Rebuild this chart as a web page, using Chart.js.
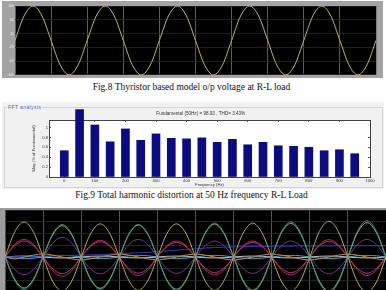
<!DOCTYPE html>
<html>
<head>
<meta charset="utf-8">
<script src="https://cdn.jsdelivr.net/npm/chart.js@4.4.1/dist/chart.umd.min.js"></script>
<style>
  html, body { margin: 0; padding: 0; background: #fff; }
  body { width: 386px; height: 290px; overflow: hidden; position: relative; font-family: 'Liberation Serif', serif; }
  .abs { position: absolute; }
  .frame1 { left: 2px; top: 1px; width: 381px; height: 77px; background: #a3a3a3; }
  .panel { left: 2px; top: 102px; width: 382px; height: 87px; background: #f1f1f1; }
  .group { left: 4px; top: 107px; width: 377px; height: 79px; border: 1px solid #d3d3d3; }
  .glabel { left: 7px; top: 104px; font: 5px 'Liberation Sans', sans-serif; color: #4a5ad0; background: #f1f1f1; padding: 0 1px; letter-spacing: 0.4px; }
  .frame3 { left: 0; top: 208px; width: 386px; height: 98px; background: #9c9c9c; }
  .cap { left: 0; width: 383px; text-align: center; font-size: 9.5px; line-height: 10px; color: #111; white-space: nowrap; }
</style>
</head>
<body>
<div class="abs frame1"><canvas id="c1" width="381" height="77"></canvas></div>
<div class="abs cap" style="top:82px">Fig.8 Thyristor based model o/p voltage at R-L load</div>
<div class="abs panel"></div>
<div class="abs group"></div>
<div class="abs glabel">FFT analysis</div>
<div class="abs" style="left:2px;top:102px"><canvas id="c2" width="382" height="86"></canvas></div>
<div class="abs cap" style="top:190px">Fig.9 Total harmonic distortion at 50 Hz frequency R-L Load</div>
<div class="abs frame3"><canvas id="c3" width="386" height="98"></canvas></div>

<script>
// time axis (ms), 5 cycles of 50 Hz
const timeMs = [0,2.5,5,7.5,10,12.5,15,17.5,20,22.5,25,27.5,30,32.5,35,37.5,40,42.5,45,47.5,50,
  52.5,55,57.5,60,62.5,65,67.5,70,72.5,75,77.5,80,82.5,85,87.5,90,92.5,95,97.5,100];

// Fig.8 output voltage
const voltOut = [0,71,100,71,0,-71,-100,-71,
  0,71,100,71,0,-71,-100,-71,
  0,71,100,71,0,-71,-100,-71,
  0,71,100,71,0,-71,-100,-71,
  0,71,100,71,0,-71,-100,-71,
  0];

// Fig.9 FFT spectrum
const freqHz = [0,50,100,150,200,250,300,350,400,450,500,550,600,650,700,750,800,850,900,950];
const magPct = [0.53,1.36,1.05,0.71,0.97,0.74,0.87,0.78,0.77,0.79,0.70,0.76,0.65,0.70,0.63,0.62,0.60,0.53,0.55,0.47];
const fftTitle = 'Fundamental (50Hz) = 98.93 , THD= 3.43%';

// bottom scope traces
const phA = [0,10.5,14.9,10.5,0,-10.3,-14.5,-10.3,
  0,10,14.1,10,0,-10,-14.2,-10,
  0,10,14.1,10,0,-10,-14.2,-10,
  0,10.2,14.4,10.2,0,-10.2,-14.5,-10.3,
  0,10.8,15.2,10.8,0,-10.6,-15,-10.6,
  0];
const phB = [0,-9.8,-13.8,-9.8,0,9.8,13.8,9.8,
  0,-9.8,-13.8,-9.8,0,9.8,13.8,9.8,
  0,-10.1,-14.3,-10.1,0,10.2,14.4,10.2,
  0,-10.5,-14.8,-10.5,0,10.6,15,10.6,
  0,-10.8,-15.2,-10.8,0,10.9,15.4,10.9,
  0];
const phC = [0,-9.3,-13.2,-9.3,0,9.4,13.3,9.4,
  0,-9.4,-13.3,-9.4,0,9.6,13.6,9.6,
  0,-9.7,-13.7,-9.7,0,9.9,14,9.9,
  0,-10,-14.1,-10,0,10.1,14.3,10.1,
  0,-10.2,-14.4,-10.2,0,10.3,14.6,10.3,
  0];
const phD = [0,5.3,7.5,5.3,0,-5.8,-8.2,-5.8,
  0,5,7.1,5,0,-5.6,-7.9,-5.6,
  0,4.8,6.8,4.8,0,-5.4,-7.6,-5.4,
  0,4.8,6.8,4.8,0,-5.4,-7.6,-5.4,
  0,5.2,7.4,5.2,0,-5.6,-7.9,-5.6,
  0];
const phE = [0,4.8,6.8,4.8,0,-5,-7.1,-5,
  0,4.6,6.5,4.6,0,-4.9,-6.9,-4.9,
  0,4.4,6.2,4.4,0,-4.7,-6.7,-4.7,
  0,4.4,6.2,4.4,0,-4.7,-6.7,-4.7,
  0,4.7,6.7,4.7,0,-4.9,-6.9,-4.9,
  0];
const phF = [0,-5.3,-7.5,-5.3,0,5.9,8.4,5.9,
  0,-5.1,-7.2,-5.1,0,5.3,7.5,5.3,
  0,-5,-7,-5,0,4.8,6.8,4.8,
  0,-5,-7,-5,0,4.8,6.8,4.8,
  0,-5.1,-7.2,-5.1,0,5.3,7.5,5.3,
  0];
const phG = [0,-0.8,0,0.8,1.3,0.8,0,-0.8,
  -1.2,-0.8,0,0.8,1.2,0.8,0,-0.8,
  -1.2,-0.8,0,0.8,1.2,0.8,0,-0.8,
  -1.2,-0.8,0,0.8,1.2,0.8,0,-0.8,
  -1.2,-0.8,0,0.8,1.2,0.8,0,-0.8,
  -1.2];
const phH = [0,0.1,0.2,0.3,0.4,0.5,0.6,0.7,
  0.8,0.9,1.0,1.2,1.4,1.6,1.8,2.0,
  2.3,2.6,2.9,3.2,3.5,3.8,4.0,4.2,
  4.3,4.4,4.5,4.5,4.6,4.6,4.6,4.7,
  4.7,4.7,4.7,4.8,4.8,4.8,4.8,4.8,
  4.8];
const phI = [0,0.3,0.4,0.3,0,-0.3,-0.4,-0.3,
  0,0.3,0.4,0.3,0,-0.3,-0.4,-0.3,
  0,0.3,0.4,0.3,0,-0.3,-0.4,-0.3,
  0,0.3,0.4,0.3,0,-0.3,-0.4,-0.3,
  0,0.3,0.4,0.3,0,-0.3,-0.4,-0.3,
  0];
const phJ = [0,-0.5,-0.7,-0.5,0,0.5,0.7,0.5,
  0,-0.5,-0.7,-0.5,0,0.5,0.7,0.5,
  0,-0.5,-0.7,-0.5,0,0.5,0.7,0.5,
  0,-0.5,-0.7,-0.5,0,0.5,0.7,0.5,
  0,-0.5,-0.7,-0.5,0,0.5,0.7,0.5,
  0];

Chart.defaults.font.family = "'Liberation Sans', sans-serif";
Chart.defaults.animation = false;

// paint plot area before drawing
const areaBg = {
  id: 'areaBg',
  beforeDraw(chart, args, opts) {
    const { ctx, chartArea: a } = chart;
    ctx.save();
    ctx.fillStyle = opts.color;
    ctx.fillRect(a.left, a.top, a.right - a.left, a.bottom - a.top);
    ctx.restore();
  }
};

const noPlugins = { legend: { display: false }, tooltip: { enabled: false } };

// Fig.8 scope
new Chart(document.getElementById('c1'), {
  type: 'line',
  data: {
    labels: timeMs,
    datasets: [{ data: voltOut, borderColor: '#bfba52', borderWidth: 1, pointRadius: 0, cubicInterpolationMode: 'monotone' }]
  },
  options: {
    responsive: false,
    layout: { padding: { left: 0, right: 7, top: 5, bottom: 0 } },
    plugins: { ...noPlugins, areaBg: { color: '#000' } },
    scales: {
      x: {
        type: 'linear', min: 0, max: 100,
        ticks: { display: false, stepSize: 10 },
        grid: { color: '#747474', lineWidth: 0.8, drawTicks: false },
        border: { display: false },
        afterFit: s => { s.height = 2; }
      },
      y: {
        min: -100, max: 100,
        ticks: { stepSize: 20, font: { size: 3.5 }, color: '#ececec', padding: 1 },
        grid: { color: '#262626', lineWidth: 0.8, drawTicks: false },
        border: { display: false },
        afterFit: s => { s.width = 13; }
      }
    }
  },
  plugins: [areaBg]
});

// Fig.9 FFT bars
new Chart(document.getElementById('c2'), {
  type: 'bar',
  data: {
    labels: freqHz,
    datasets: [{ data: magPct, backgroundColor: '#0b0b84', barThickness: 8, clip: false }]
  },
  options: {
    responsive: false,
    layout: { padding: { left: 29.5, right: 14, top: 0, bottom: 0 } },
    plugins: {
      ...noPlugins,
      areaBg: { color: '#fff' },
      title: { display: true, text: fftTitle, font: { size: 4.6, weight: 'normal' }, color: '#333', padding: { top: 9, bottom: 3.5 } }
    },
    scales: {
      x: {
        type: 'linear', min: -50, max: 1000, offset: false,
        ticks: { stepSize: 100, font: { size: 4.2 }, color: '#333', padding: 3, callback: v => (v < 0 ? '' : v) },
        grid: { drawOnChartArea: false, tickLength: -2, color: '#555', offset: false },
        border: { color: '#444' },
        title: { display: true, text: 'Frequency (Hz)', font: { size: 4.2 }, color: '#333', padding: { top: 0, bottom: 1 } },
        afterFit: s => { s.height = 11; }
      },
      y: {
        min: 0, max: 1.15,
        ticks: { stepSize: 0.2, font: { size: 4.2 }, color: '#333', padding: 3, callback: v => (v > 1.01 ? '' : Math.round(v * 10) / 10) },
        grid: { drawOnChartArea: false, tickLength: -2, color: '#555' },
        border: { color: '#444' },
        title: { display: true, text: 'Mag (% of Fundamental)', font: { size: 4.2 }, color: '#333', padding: 0 },
        afterFit: s => { s.width = 17.5; }
      },
      x2: {
        axis: 'x', type: 'linear', position: 'top', min: -50, max: 1000, offset: false,
        ticks: { display: false, stepSize: 100 },
        grid: { drawOnChartArea: false, tickLength: -2, color: '#555', offset: false },
        border: { color: '#444' },
        afterFit: s => { s.height = 0; }
      },
      y2: {
        axis: 'y', type: 'linear', position: 'right', min: 0, max: 1.15,
        ticks: { display: false, stepSize: 0.2 },
        grid: { drawOnChartArea: false, tickLength: -2, color: '#555' },
        border: { color: '#444' },
        afterFit: s => { s.width = 0; }
      }
    }
  },
  plugins: [areaBg]
});

// bottom scope, several traces
const trace = (data, color, w) => ({ data, borderColor: color, borderWidth: w || 1, pointRadius: 0, cubicInterpolationMode: 'monotone' });

new Chart(document.getElementById('c3'), {
  type: 'line',
  data: {
    labels: timeMs,
    datasets: [
      trace(phA, '#b8b048'),
      trace(phB, '#2f9a86'),
      trace(phC, '#9fb862'),
      trace(phD, '#c02848'),
      trace(phE, '#b03590'),
      trace(phF, '#7a3098'),
      trace(phG, '#c88a35'),
      trace(phH, '#2a3cc0'),
      trace(phI, '#b8c0d0'),
      trace(phJ, '#3fa0c8')
    ]
  },
  options: {
    responsive: false,
    layout: { padding: { left: 0, right: 0, top: 2, bottom: 0 } },
    plugins: { ...noPlugins, areaBg: { color: '#000' } },
    scales: {
      x: {
        type: 'linear', min: 0, max: 100,
        ticks: { display: false, stepSize: 10 },
        grid: { color: '#6a6a6a', lineWidth: 0.8, drawTicks: false },
        border: { display: false },
        afterFit: s => { s.height = 2; }
      },
      y: {
        min: -20, max: 20,
        ticks: { stepSize: 5, font: { size: 3.6 }, color: '#c8c8c8', padding: -3, callback: v => (v >= 20 ? '' : v) },
        grid: { color: '#2a2a2a', lineWidth: 0.8, drawTicks: false },
        border: { display: false },
        afterFit: s => { s.width = 5; }
      }
    }
  },
  plugins: [areaBg]
});
</script>
</body>
</html>
